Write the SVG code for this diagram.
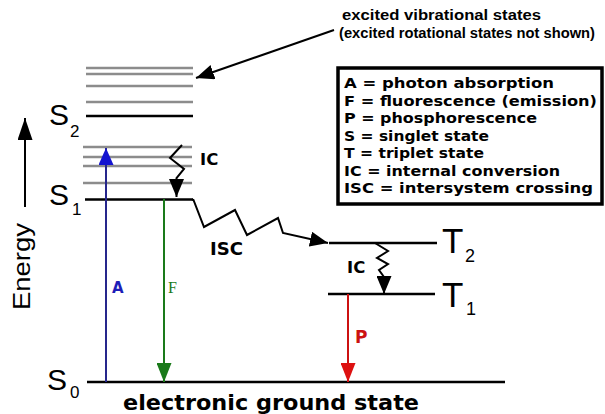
<svg xmlns="http://www.w3.org/2000/svg" width="605" height="414" viewBox="0 0 605 414">
<defs>
<style>
.lvl{stroke:#000;stroke-width:2.5;fill:none}
.vib{stroke:#8c8c8c;stroke-width:2.5;fill:none}
.st{font-family:"Liberation Sans",Arial,sans-serif;fill:#000}
.b{font-family:"DejaVu Sans",Verdana,sans-serif;font-weight:bold;fill:#000}
.nb{font-family:"Liberation Sans",Arial,sans-serif;font-weight:bold;fill:#000}
.zz{stroke:#000;stroke-width:2;fill:none;stroke-linejoin:miter}
</style>
<marker id="ak" viewBox="0 0 18 15" refX="18" refY="7.5" markerWidth="18" markerHeight="15" markerUnits="userSpaceOnUse" orient="auto"><path d="M0,0 L18,7.5 L0,15 z" fill="#000"/></marker>
<marker id="ae" viewBox="0 0 22 15" refX="22" refY="7.5" markerWidth="22" markerHeight="15" markerUnits="userSpaceOnUse" orient="auto"><path d="M0,0 L22,7.5 L0,15 z" fill="#000"/></marker>
<marker id="ab" viewBox="0 0 17 15" refX="17" refY="7.5" markerWidth="17" markerHeight="15" markerUnits="userSpaceOnUse" orient="auto"><path d="M0,0 L17,7.5 L0,15 z" fill="#1414d0"/></marker>
<marker id="ag" viewBox="0 0 19 15" refX="19" refY="7.5" markerWidth="19" markerHeight="15" markerUnits="userSpaceOnUse" orient="auto"><path d="M0,0 L19,7.5 L0,15 z" fill="#1a7a1a"/></marker>
<marker id="ar" viewBox="0 0 19 15" refX="19" refY="7.5" markerWidth="19" markerHeight="15" markerUnits="userSpaceOnUse" orient="auto"><path d="M0,0 L19,7.5 L0,15 z" fill="#dd1111"/></marker>
</defs>
<rect width="605" height="414" fill="#fff"/>

<g id="note">
<text class="nb" x="342" y="20" font-size="14.5" textLength="199" lengthAdjust="spacingAndGlyphs">excited vibrational states</text>
<text class="nb" x="339" y="38" font-size="14.5" textLength="256" lengthAdjust="spacingAndGlyphs">(excited rotational states not shown)</text>
</g>

<g id="legend">
<rect x="338" y="68" width="264" height="136" fill="#fff" stroke="#000" stroke-width="3.5"/>
<text class="b" x="344" y="88" font-size="14.5" textLength="210" lengthAdjust="spacingAndGlyphs">A = photon absorption</text>
<text class="b" x="344" y="106" font-size="14.5" textLength="253" lengthAdjust="spacingAndGlyphs">F = fluorescence (emission)</text>
<text class="b" x="344" y="123" font-size="14.5" textLength="193" lengthAdjust="spacingAndGlyphs">P = phosphorescence</text>
<text class="b" x="344" y="141" font-size="14.5" textLength="145" lengthAdjust="spacingAndGlyphs">S = singlet state</text>
<text class="b" x="344" y="158" font-size="14.5" textLength="140" lengthAdjust="spacingAndGlyphs">T = triplet state</text>
<text class="b" x="344" y="176" font-size="14.5" textLength="216" lengthAdjust="spacingAndGlyphs">IC = internal conversion</text>
<text class="b" x="344" y="193" font-size="14.5" textLength="249" lengthAdjust="spacingAndGlyphs">ISC = intersystem crossing</text>
</g>

<g id="energy-axis">
<line x1="25" y1="207" x2="25" y2="118" stroke="#000" stroke-width="2" marker-end="url(#ae)"/>
<text class="st" transform="translate(30,310) rotate(-90)" font-size="23" textLength="87" lengthAdjust="spacingAndGlyphs">Energy</text>
</g>

<g id="S2">
<line class="vib" x1="86" y1="68" x2="193" y2="68"/>
<line class="vib" x1="86" y1="74" x2="193" y2="74"/>
<line class="vib" x1="86" y1="86" x2="193" y2="86"/>
<line class="vib" x1="86" y1="102" x2="193" y2="102"/>
<line class="lvl" x1="86" y1="116" x2="193" y2="116"/>
<text class="st" x="49" y="125" font-size="30">S</text>
<text class="st" x="70" y="137" font-size="17">2</text>
</g>

<g id="S1">
<line class="vib" x1="83" y1="147" x2="192" y2="147"/>
<line class="vib" x1="83" y1="157" x2="192" y2="157"/>
<line class="vib" x1="83" y1="166" x2="192" y2="166"/>
<line class="vib" x1="83" y1="183" x2="192" y2="183"/>
<line class="lvl" x1="85" y1="199.5" x2="193" y2="199.5"/>
<text class="st" x="49" y="205" font-size="30">S</text>
<text class="st" x="72" y="215" font-size="17">1</text>
</g>

<g id="S0">
<line class="lvl" x1="87" y1="382" x2="505" y2="382"/>
<text class="st" x="47" y="390" font-size="30">S</text>
<text class="st" x="70" y="398" font-size="17">0</text>
<text class="b" x="123" y="410" font-size="22" textLength="296" lengthAdjust="spacingAndGlyphs">electronic ground state</text>
</g>

<g id="T2">
<line class="lvl" x1="329" y1="243" x2="437" y2="243"/>
<text class="st" x="442" y="253" font-size="35">T</text>
<text class="st" x="465" y="262" font-size="18">2</text>
</g>

<g id="T1">
<line class="lvl" x1="328" y1="294" x2="435" y2="294"/>
<text class="st" x="442" y="307" font-size="35">T</text>
<text class="st" x="466" y="315" font-size="18">1</text>
</g>

<g id="connectors">
<line x1="334" y1="30" x2="196" y2="78" stroke="#000" stroke-width="2" marker-end="url(#ak)"/>
<line x1="106" y1="382" x2="106" y2="148" stroke="#26268c" stroke-width="2" marker-end="url(#ab)"/>
<line x1="164" y1="199" x2="164" y2="382" stroke="#1a7a1a" stroke-width="2" marker-end="url(#ag)"/>
<line x1="348" y1="294" x2="348" y2="382" stroke="#cc1111" stroke-width="2" marker-end="url(#ar)"/>
<polyline class="zz" points="182,145 170,158 184,169 176.5,178 176.5,197" marker-end="url(#ak)"/>
<polyline class="zz" points="192,199.5 193.5,200 204,227 235,210 247,235 278,218 283,233 328,243" marker-end="url(#ak)"/>
<polyline class="zz" points="375,243 388,251 377,258 388,264 379,270 384,277 384,294" marker-end="url(#ak)"/>
<text class="b" x="112" y="293" font-size="15" style="fill:#1d1db8">A</text>
<text x="168" y="293" font-size="16" font-family="'Liberation Serif','Times New Roman',serif" fill="#1a7a1a">F</text>
<text class="b" x="355" y="343" font-size="17" style="fill:#cc1111">P</text>
<text class="b" x="210" y="255" font-size="18" textLength="33" lengthAdjust="spacingAndGlyphs">ISC</text>
<text class="b" x="200" y="165" font-size="16.5">IC</text>
<text class="b" x="347" y="273" font-size="16.5">IC</text>
</g>
</svg>
